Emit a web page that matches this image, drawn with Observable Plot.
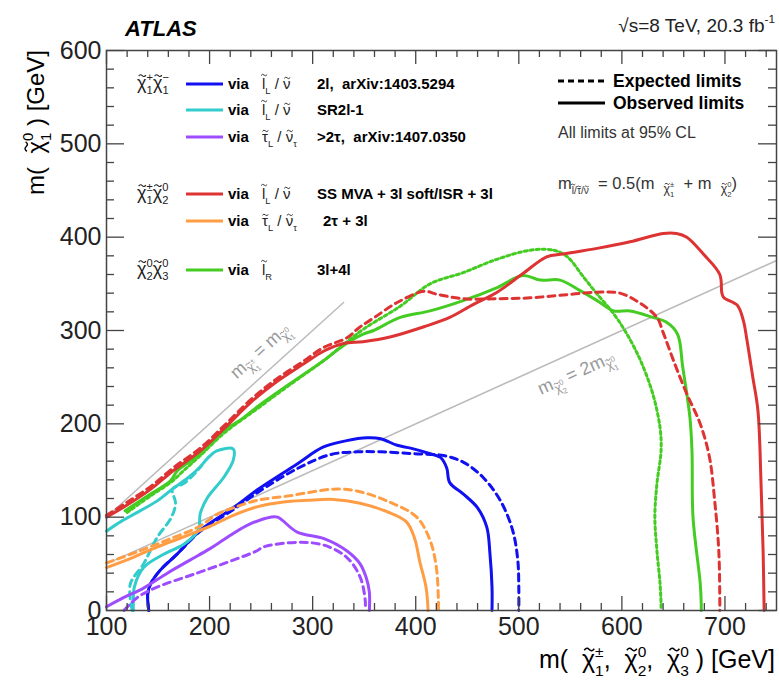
<!DOCTYPE html>
<html><head><meta charset="utf-8">
<script src="https://cdn.jsdelivr.net/npm/d3@7"></script>
<script src="https://cdn.jsdelivr.net/npm/@observablehq/plot@0.6"></script>
<style>
body{margin:0;background:#fff}
#chart{position:relative;width:779px;height:682px}
</style></head><body><div id="chart"></div>
<script>
// Exclusion contours in the (chargino/neutralino mass, LSP mass) plane, GeV.
const blueObs = [[141,0],[140,18],[143,29],[152,43],[169,61],[191,86],[223,110],[246,129],[285,157],[310,175],[333,182],[353,185],[366,184],[382,177],[395,174],[414,168],[424,164],[430,153],[433,137],[446,125],[460,110],[469,89],[472,61],[474,25],[474,0]];
const blueExp = [[141,0],[140,18],[143,29],[152,43],[169,61],[191,85],[223,108],[246,126],[285,152],[317,167],[343,170],[366,170],[398,168],[427,166],[446,159],[465,143],[482,118],[494,86],[499,54],[500,25],[500,0]];
const cyanObs = [[100,85],[115,96],[133,107],[150,118],[165,131],[180,143],[191,154],[198,163],[207,171],[223,173],[223,161],[214,143],[198,121],[191,104],[189,86],[175,71],[155,60],[136,46],[127,25],[126,7],[126,0]];
const cyanExp = [[125,0],[123,28],[136,50],[149,78],[163,100],[167,115],[164,130],[175,136],[185,146],[192,155]];
const purpleObs = [[100,4],[117,14],[136,24],[159,40],[181,54],[200,66],[214,76],[236,91],[259,100],[266,100],[285,84],[311,77],[333,64],[346,50],[352,35],[355,20],[355,0]];
const purpleExp = [[117,0],[130,14],[149,25],[185,39],[223,54],[246,64],[252,68],[285,73],[311,70],[333,57],[346,36],[351,11],[351,0]];
const redObs = [[100,100],[120,113],[143,130],[165,150],[191,171],[215,196],[240,223],[265,245],[291,264],[311,278],[330,286],[349,288],[375,293],[408,304],[433,314],[456,328],[479,341],[504,361],[527,379],[543,382],[576,388],[608,395],[640,404],[653,404],[663,400],[679,382],[695,360],[697,340],[699,335],[712,327],[718,310],[721,292],[727,250],[732,214],[735,136],[737,64],[738,0]];
const redExp = [[100,102],[120,116],[143,133],[165,153],[191,174],[215,199],[240,226],[265,248],[291,267],[311,282],[333,292],[345,303],[360,314],[382,330],[408,342],[420,339],[446,334],[479,334],[511,335],[543,338],[576,341],[598,340],[618,329],[634,314],[640,298],[650,268],[663,232],[676,200],[685,164],[690,118],[694,64],[695,11],[695,0]];
const orangeObs = [[100,46],[126,57],[149,68],[175,79],[200,90],[223,102],[246,111],[270,116],[295,118],[320,119],[346,115],[372,106],[391,95],[399,77],[404,52],[410,25],[412,0]];
const orangeExp = [[100,51],[130,63],[160,76],[190,90],[207,103],[223,110],[246,118],[278,123],[320,130],[343,128],[375,116],[401,100],[414,75],[420,46],[422,10],[422,0]];
const greenObs = [[118,107],[143,125],[162,139],[169,150],[191,168],[214,193],[230,204],[246,218],[278,243],[311,268],[330,284],[349,296],[359,300],[385,314],[414,321],[446,332],[479,346],[504,359],[521,354],[540,354],[559,343],[576,332],[592,321],[608,321],[630,314],[643,309],[654,296],[659,261],[666,207],[668,171],[669,100],[676,29],[677,7],[677,0]];
const greenExp = [[120,105],[143,123],[162,137],[175,150],[191,166],[214,190],[246,216],[278,242],[311,268],[330,285],[350,302],[385,326],[414,350],[446,362],[478,376],[511,386],[534,386],[547,379],[563,357],[576,339],[592,318],[605,296],[618,268],[630,232],[637,196],[638,171],[634,136],[632,100],[634,64],[637,29],[638,7],[638,0]];

// Kinematic boundaries
const diagEqual = [[100,100],[330,330]];
const diagHalf = [[100,50],[750,375]];

// Axis ticks
const xMajor = [100,200,300,400,500,600,700];
const xMinor = d3.range(100,751,20).filter(v => v % 100 !== 0);
const yMajor = [0,100,200,300,400,500,600];
const yMinor = d3.range(0,601,20).filter(v => v % 100 !== 0);

const FONT = "'Liberation Sans', Arial, Helvetica, sans-serif";
const COL = {blue:"#1010f0", cyan:"#33cccc", purple:"#9d4dff", red:"#dd3333", orange:"#ff9d45", green:"#44cc22"};
const DASH = "7,5", DOT = "3,3";

const curves = [
  [blueObs, COL.blue, null], [blueExp, COL.blue, DASH],
  [cyanObs, COL.cyan, null], [cyanExp, COL.cyan, DASH],
  [purpleObs, COL.purple, null], [purpleExp, COL.purple, DASH],
  [orangeObs, COL.orange, null], [orangeExp, COL.orange, DASH],
  [greenExp, COL.green, DOT], [greenObs, COL.green, null],
  [redExp, COL.red, DASH], [redObs, COL.red, null]
];

const W = 779, H = 682, M = {top:50, right:3, bottom:72, left:106};
const fw = W - M.left - M.right, fh = H - M.top - M.bottom;
const AX = "#444";

const chart = Plot.plot({
  width: W, height: H,
  marginTop: M.top, marginRight: M.right, marginBottom: M.bottom, marginLeft: M.left,
  x: {domain: [100, 750], label: null},
  y: {domain: [0, 600], label: null},
  style: {fontFamily: FONT, background: "#fff", overflow: "visible"},
  marks: [
    Plot.line(diagEqual, {x: d => d[0], y: d => d[1], stroke: "#bbb", strokeWidth: 1.5}),
    Plot.line(diagHalf, {x: d => d[0], y: d => d[1], stroke: "#bbb", strokeWidth: 1.5}),
    ...curves.map(([pts, color, dash]) => Plot.line(pts, {
      x: d => d[0], y: d => d[1], stroke: color, strokeWidth: 3,
      strokeDasharray: dash, curve: "catmull-rom"
    })),
    // inward ticks on all four sides
    Plot.tickX(xMajor, {x: d => d, insetTop: fh - 14, stroke: AX, strokeWidth: 1.3}),
    Plot.tickX(xMinor, {x: d => d, insetTop: fh - 7, stroke: AX, strokeWidth: 1.3}),
    Plot.tickX(xMajor, {x: d => d, insetBottom: fh - 14, stroke: AX, strokeWidth: 1.3}),
    Plot.tickX(xMinor, {x: d => d, insetBottom: fh - 7, stroke: AX, strokeWidth: 1.3}),
    Plot.tickY(yMajor, {y: d => d, insetRight: fw - 18, stroke: AX, strokeWidth: 1.3}),
    Plot.tickY(yMinor, {y: d => d, insetRight: fw - 8, stroke: AX, strokeWidth: 1.3}),
    Plot.tickY(yMajor, {y: d => d, insetLeft: fw - 18, stroke: AX, strokeWidth: 1.3}),
    Plot.tickY(yMinor, {y: d => d, insetLeft: fw - 8, stroke: AX, strokeWidth: 1.3}),
    Plot.frame({stroke: AX, strokeWidth: 1.5}),
    Plot.axisX(xMajor, {anchor: "bottom", tickSize: 0, tickPadding: 7, fontSize: 25, fill: "#222", label: null}),
    Plot.axisY(yMajor, {anchor: "left", tickSize: 0, tickPadding: 5, fontSize: 25, fill: "#222", label: null})
  ]
});
document.getElementById("chart").appendChild(chart);

const svg = d3.select(chart);
const xs = chart.scale("x").apply, ys = chart.scale("y").apply;

// Text with tildes and stacked sub/superscripts, laid out piece by piece.
function rich(parent, x, y, parts, o = {}) {
  const size = o.size || 16, fill = o.fill || "#000";
  const g = parent.append("g")
    .attr("font-family", FONT).attr("fill", fill).attr("text-anchor", "start")
    .attr("font-weight", o.weight || "normal").attr("font-style", o.style || "normal");
  let cx = 0;
  for (const p of parts) {
    const seg = typeof p === "string" ? {t: p} : p;
    const s = size * (seg.scale || 1), dy = seg.dy || 0;
    if (seg.t) {
      const t = g.append("text").attr("x", cx).attr("y", dy).attr("font-size", s).text(seg.t);
      const w = t.node().getComputedTextLength();
      if (seg.tilde) {
        // ROOT-style tilde accent drawn as a small wave above the letter
        const mx = cx + w / 2 + s * 0.03, my = dy - s * seg.tilde, hw = s * 0.2, a = s * 0.07;
        g.append("path")
          .attr("d", `M${mx - hw},${my + a * 0.4} Q${mx - hw / 2},${my - a * 1.6} ${mx},${my} T${mx + hw},${my - a * 0.4}`)
          .attr("fill", "none").attr("stroke", fill).attr("stroke-width", Math.max(0.9, s * 0.06));
      }
      cx += w;
    }
    let w = 0;
    if (seg.sup) {
      const t = g.append("text").attr("x", cx).attr("y", dy - s * 0.45).attr("font-size", s * 0.62).attr("font-weight", "normal").text(seg.sup);
      w = Math.max(w, t.node().getComputedTextLength());
    }
    if (seg.sub) {
      const t = g.append("text").attr("x", cx).attr("y", dy + s * 0.3).attr("font-size", s * 0.62).attr("font-weight", "normal").text(seg.sub);
      w = Math.max(w, t.node().getComputedTextLength());
    }
    cx += w;
  }
  const shift = o.anchor === "end" ? -cx : o.anchor === "middle" ? -cx / 2 : 0;
  g.attr("transform", `translate(${x},${y}) rotate(${o.rotate || 0}) translate(${shift},0)`);
  return g;
}

// Sparticle symbols: base letter with a tilde on top
const LOW = 0.74, HIGH = 0.93;
const chi = (sub, sup, extra = {}) => ({t: "\u03C7", tilde: LOW, sub, sup, ...extra});
const sl = (sub, extra = {}) => ({t: "l", tilde: HIGH, sub, ...extra});
const st = (sub, extra = {}) => ({t: "\u03C4", tilde: LOW, sub, ...extra});
const sn = (sub, extra = {}) => ({t: "\u03BD", tilde: LOW, sub, ...extra});

// Header
rich(svg, 125, 36, ["ATLAS"], {size: 22, weight: "bold", style: "italic"});
rich(svg, 775, 32, ["\u221As=8 TeV, 20.3 fb", {sup: "-1"}], {size: 19, anchor: "end", fill: "#222"});

// Axis titles
rich(svg, 775, 668, ["m(  ", chi("1", "\u00B1"), ",  ", chi("2", "0"), ",  ", chi("3", "0"), " ) [GeV]"], {size: 25, anchor: "end"});
rich(svg, 44, 50, ["m(  ", chi("1", "0"), " ) [GeV]"], {size: 24, anchor: "end", rotate: -90});

// Legend: production processes
const rows = [
  {y: 84, color: COL.blue, head: [chi("1", "+"), chi("1", "\u2212")], via: [sl("L"), " / ", sn()], note: "2l,  arXiv:1403.5294"},
  {y: 110, color: COL.cyan, via: [sl("L"), " / ", sn()], note: "SR2l-1"},
  {y: 137, color: COL.purple, via: [st("L"), " / ", sn("\u03C4")], note: ">2\u03C4,  arXiv:1407.0350"},
  {y: 194, color: COL.red, head: [chi("1", "\u00B1"), chi("2", "0")], via: [sl("L"), " / ", sn()], note: "SS MVA + 3l soft/ISR + 3l"},
  {y: 221, color: COL.orange, via: [st("L"), " / ", sn("\u03C4")], note: "2\u03C4 + 3l", noteX: 323},
  {y: 270, color: COL.green, head: [chi("2", "0"), chi("3", "0")], via: [sl("R")], note: "3l+4l"}
];
for (const r of rows) {
  svg.append("line").attr("x1", 186).attr("x2", 223).attr("y1", r.y).attr("y2", r.y)
    .attr("stroke", r.color).attr("stroke-width", 3);
  if (r.head) rich(svg, 137, r.y + 5, r.head, {size: 18, fill: "#222"});
  rich(svg, 228, r.y + 5, ["via"], {size: 15, weight: "bold"});
  rich(svg, 262, r.y + 5, r.via, {size: 15, fill: "#222"});
  rich(svg, r.noteX || 317, r.y + 5, [r.note], {size: 15, weight: "bold"});
}

// Legend: line styles
svg.append("line").attr("x1", 558).attr("x2", 605).attr("y1", 81).attr("y2", 81)
  .attr("stroke", "#000").attr("stroke-width", 3).attr("stroke-dasharray", "6,4");
rich(svg, 613, 87, ["Expected limits"], {size: 17.5, weight: "bold"});
svg.append("line").attr("x1", 558).attr("x2", 605).attr("y1", 103).attr("y2", 103)
  .attr("stroke", "#000").attr("stroke-width", 3);
rich(svg, 613, 109, ["Observed limits"], {size: 17.5, weight: "bold"});
rich(svg, 558, 138, ["All limits at 95% CL"], {size: 16, fill: "#333"});
const fsub = {scale: 0.62, dy: 5};
rich(svg, 558, 189, ["m", sl(null, fsub), {t: "/", ...fsub}, st(null, fsub), {t: "/", ...fsub}, sn(null, fsub),
  "  = 0.5(m  ", chi("1", "\u00B1", {scale: 0.75, dy: 4}), "  + m  ", chi("2", "0", {scale: 0.75, dy: 4}), ")"],
  {size: 16.5, fill: "#333"});

// Labels along the kinematic boundaries
function along(line, at, offset, parts) {
  const [[x1, y1], [x2, y2]] = line;
  const ang = Math.atan2(ys(y2) - ys(y1), xs(x2) - xs(x1)) * 180 / Math.PI;
  const yAt = y1 + (at - x1) * (y2 - y1) / (x2 - x1);
  const px = xs(at), py = ys(yAt);
  const rad = ang * Math.PI / 180;
  rich(svg, px - offset * Math.sin(rad), py + offset * Math.cos(rad), parts,
    {size: 18, fill: "#999", anchor: "middle", rotate: ang});
}
const dsub = {scale: 0.7, dy: 5};
along(diagEqual, 262, -14, ["m", chi("1", "\u00B1", dsub), " = m", chi("1", "0", dsub)]);
along(diagHalf, 548, 26, ["m", chi("2", "0", dsub), " = 2m", chi("1", "0", dsub)]);
</script></body></html>
